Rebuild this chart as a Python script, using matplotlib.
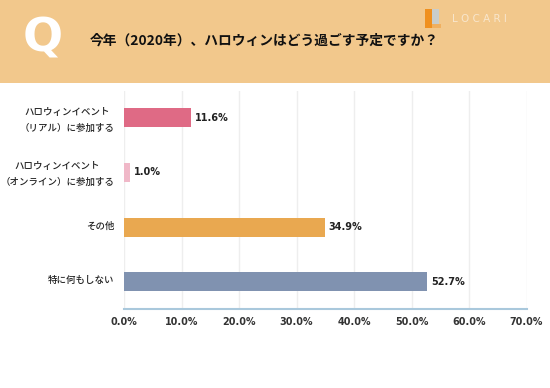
import matplotlib
matplotlib.use('Agg')
import matplotlib.pyplot as plt
import matplotlib.patches as patches
from matplotlib.transforms import ScaledTranslation

plt.rcParams['font.family'] = ['Noto Sans CJK JP', 'DejaVu Sans']

W, H = 550, 388

# data
categories = ['ハロウィンイベント\n（リアル）に参加する', 'ハロウィンイベント\n（オンライン）に参加する', 'その他', '特に何もしない']
values = [11.6, 1.0, 34.9, 52.7]
bar_colors = ['#DF6A85', '#F0B8C8', '#E9A850', '#8092B0']
x_ticks = [0, 10, 20, 30, 40, 50, 60, 70]
title = '今年（2020年）、ハロウィンはどう過ごす予定ですか？'

fig = plt.figure(figsize=(W/100, H/100), dpi=100, facecolor='white')

# header band, in pixel coords
bg = fig.add_axes([0, 0, 1, 1])
bg.set_xlim(0, W)
bg.set_ylim(H, 0)
bg.axis('off')
bg.add_patch(patches.Rectangle((0, 0), W, 82.5, color='#F2C88C', lw=0))
bg.text(42.5, 39, 'Q', color='white', fontsize=34, fontweight='bold', ha='center', va='center',
        family='DejaVu Sans')
bg.text(90, 40.5, title, color='#111111', fontsize=9.9, fontweight='bold', ha='left', va='center')

# logo
bg.add_patch(patches.Rectangle((425, 9), 7, 19, color='#F0901E', lw=0))
bg.add_patch(patches.Rectangle((432, 9), 7, 15, color='#C9CDCB', lw=0))
bg.add_patch(patches.Rectangle((432, 24), 9, 4, color='#F0B060', lw=0))
bg.text(479.5, 19, 'L O C A R I', color='#F8E6CC', fontsize=7.5, ha='center', va='center',
        family='DejaVu Sans')

# chart
left, right = 124, 526.5
top, bottom = 90.5, 309
ax = fig.add_axes([left/W, 1 - bottom/H, (right-left)/W, (bottom-top)/H])
ax.set_facecolor('none')
ypos = list(range(len(categories)))
ax.barh(ypos, values, height=0.35, color=bar_colors, linewidth=0, zorder=3)
for y, v in zip(ypos, values):
    ax.text(v + 0.65, y, f'{v:.1f}%', fontsize=7, fontweight='bold', color='#222222', va='center', ha='left',
            family='DejaVu Sans')

ax.set_xlim(0, 70)
ax.set_ylim(3.5, -0.5)
ax.set_yticks(ypos)
ax.set_yticklabels(categories, fontsize=6.8, fontweight='medium', color='#222222', linespacing=1.9,
                   ha='right', multialignment='center')
ax.tick_params(axis='y', length=0, pad=7)
# labels sit slightly above the bar centres
shift = ScaledTranslation(0, 1.5/72, fig.dpi_scale_trans)
for lab in ax.get_yticklabels():
    lab.set_transform(lab.get_transform() + shift)
ax.set_xticks(x_ticks)
ax.set_xticklabels([f'{t:.1f}%' for t in x_ticks], fontsize=6.9, fontweight='bold', color='#333333',
                   family='DejaVu Sans')
ax.tick_params(axis='x', length=0, pad=5.5)
ax.grid(axis='x', color='#EEEEEE', lw=1, zorder=0)
for s in ['top', 'right', 'left']:
    ax.spines[s].set_visible(False)
ax.spines['bottom'].set_color('#A9C8DC')
ax.spines['bottom'].set_linewidth(1.5)

fig.savefig('out.png', dpi=100)
